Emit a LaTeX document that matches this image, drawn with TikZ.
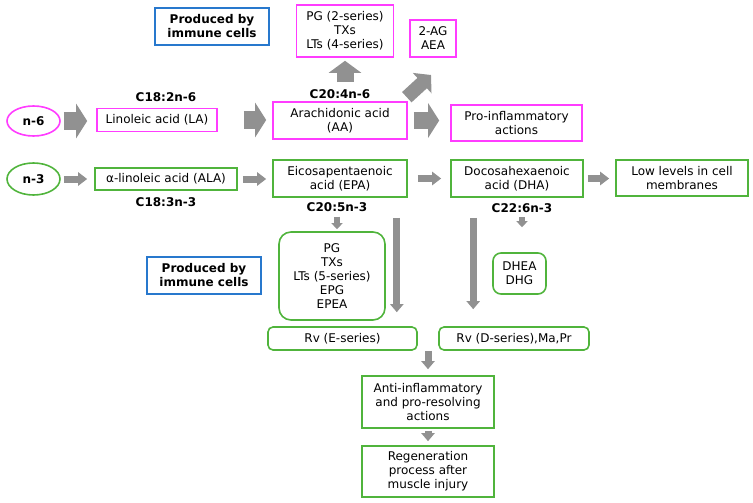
\documentclass[tikz,border=0pt]{standalone}
\usepackage{fontspec}
\setmainfont{DejaVu Sans}
\usetikzlibrary{arrows.meta,shapes.geometric}
\definecolor{pinkline}{RGB}{255,60,255}
\definecolor{greenline}{RGB}{80,180,60}
\definecolor{blueline}{RGB}{40,120,205}
\definecolor{arrgray}{RGB}{145,145,145}

\begin{document}
\begin{tikzpicture}[x=1pt, y=-1pt,
	every node/.style={font=\fontsize{12}{14}\selectfont, align=center, inner sep=0pt},
	sz/.style 2 args={minimum width=#1pt, minimum height=#2pt},
	pinkbox/.style={draw=pinkline, line width=1.6pt},
	greenbox/.style={draw=greenline, line width=1.6pt},
	bluebox/.style={draw=blueline, line width=1.6pt, font=\fontsize{12}{14}\selectfont\bfseries},
	chain/.style={font=\fontsize{12}{14}\selectfont\bfseries},
	fat/.style={draw=arrgray, line width=17pt, -{Triangle[width=34pt,length=11pt]}},
	fatup/.style={draw=arrgray, line width=17pt, -{Triangle[width=32pt,length=12pt]}},
	thin/.style={draw=arrgray, line width=7pt, -{Triangle[width=13pt,length=9pt]}},
	long/.style={draw=arrgray, line width=7pt, -{Triangle[width=13pt,length=8pt]}},
	tiny/.style={draw=arrgray, line width=6pt, -{Triangle[width=11pt,length=6pt]}}]

	\useasboundingbox (0,0) rectangle (753,503);

	\node[bluebox, sz={114}{37}] (prodtop) at (212,26.5) {Produced by\\immune cells};
	\node[pinkbox, sz={97}{52}] (pgsix) at (345,31) {PG (2-series)\\TXs\\LTs (4-series)};
	\node[pinkbox, sz={46}{37}] (ag) at (433,38.5) {2-AG\\AEA};

	\node[pinkbox, ellipse, sz={53}{30}, font=\fontsize{12}{14}\selectfont\bfseries] (n6) at (33.5,121) {n-6};
	\node[pinkbox, sz={120}{23}] (la) at (157,120) {Linoleic acid (LA)};
	\node[pinkbox, sz={134}{37}] (aa) at (340,120.5) {Arachidonic acid\\(AA)};
	\node[pinkbox, sz={131}{36}] (pro) at (516.5,123) {Pro-inflammatory\\actions};
	\node[chain] (c182) at (166,97) {C18:2n-6};
	\node[chain] (c204) at (340,94) {C20:4n-6};

	\node[greenbox, ellipse, sz={53}{32}, font=\fontsize{12}{14}\selectfont\bfseries] (n3) at (33.5,179) {n-3};
	\node[greenbox, sz={142}{22}] (ala) at (166,179) {α-linoleic acid (ALA)};
	\node[greenbox, sz={134}{37}] (epa) at (340,178.5) {Eicosapentaenoic\\acid (EPA)};
	\node[greenbox, sz={132}{37}] (dha) at (517,178.5) {Docosahexaenoic\\acid (DHA)};
	\node[greenbox, sz={132}{36}] (low) at (682,178) {Low levels in cell\\membranes};
	\node[chain] (c183) at (166,202) {C18:3n-3};
	\node[chain] (c205) at (337,207) {C20:5n-3};
	\node[chain] (c226) at (522,208) {C22:6n-3};

	\node[bluebox, sz={114}{37}] (prodlow) at (204,275.5) {Produced by\\immune cells};
	\node[greenbox, rounded corners=12pt, sz={106}{88}] (pgthree) at (332,276) {PG\\TXs\\LTs (5-series)\\EPG\\EPEA};
	\node[greenbox, rounded corners=8pt, sz={53}{41}] (dhea) at (519.5,273.5) {DHEA\\DHG};
	\node[greenbox, rounded corners=5pt, sz={149}{23}] (rve) at (342.5,338.5) {Rv (E-series)};
	\node[greenbox, rounded corners=5pt, sz={150}{23}] (rvd) at (514,338.5) {Rv (D-series),Ma,Pr};
	\node[greenbox, sz={132}{52}] (anti) at (428,402) {Anti-inflammatory\\and pro-resolving\\actions};
	\node[greenbox, sz={132}{51}] (regen) at (428,471.5) {Regeneration\\process after\\muscle injury};
	\coordinate (agtip) at (431,75);

	\draw[fat, shorten <=3pt, shorten >=9pt] (n6) -- (n6 -| la.west);
	\draw[fat, shorten <=26pt, shorten >=6pt] (la.east) -- (la.east -| aa.west);
	\draw[fat, shorten <=6pt, shorten >=11pt] (aa.east) -- (aa.east -| pro.west);
	\draw[fatup, shorten <=19pt, shorten >=3pt] (pgsix.south |- aa.north) -- (pgsix.south);
	\draw[draw=arrgray, line width=14pt, -{Triangle[width=27pt,length=12pt]}] ([xshift=-1pt,yshift=4pt]aa.north east) -- (agtip);

	\draw[thin, shorten <=3pt, shorten >=7pt] (n3) -- (n3 -| ala.west);
	\draw[thin, shorten <=5pt, shorten >=6pt] (ala.east) -- (ala.east -| epa.west);
	\draw[thin, shorten <=10pt, shorten >=9pt] (epa.east) -- (epa.east -| dha.west);
	\draw[thin, shorten <=4pt, shorten >=6pt] (dha.east) -- (dha.east -| low.west);

	\draw[tiny, shorten <=5pt, shorten >=2pt] (c205.south) -- (c205.south |- pgthree.north);
	\draw[tiny, shorten <=4.5pt, shorten >=25pt] (c226.south) -- (c226.south |- dhea.north);
	\draw[long, shorten <=20pt, shorten >=14pt] ([xshift=-11pt]epa.south east) -- ([xshift=-11pt]epa.south east |- rve.north);
	\draw[long, shorten <=20pt, shorten >=17pt] ([xshift=23pt]dha.south west) -- ([xshift=23pt]dha.south west |- rvd.north);
	\draw[long, shorten >=6pt] (anti.north |- rve.south) -- (anti.north);
	\draw[long, shorten <=2pt, shorten >=4pt] (anti.south) -- (regen.north);
\end{tikzpicture}
\end{document}
